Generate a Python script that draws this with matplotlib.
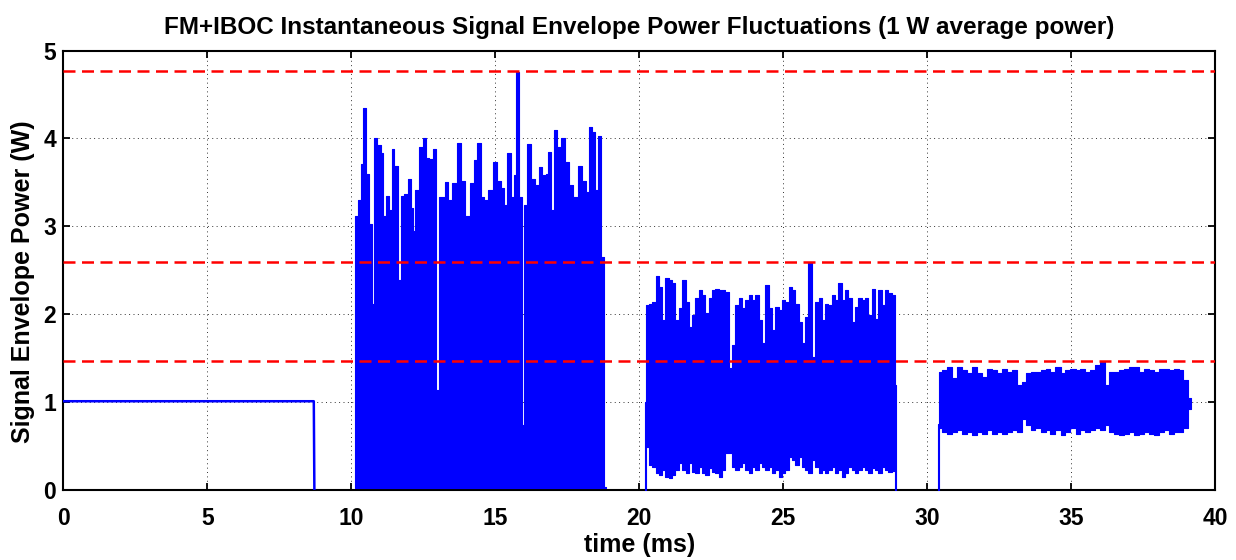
import matplotlib
matplotlib.use('Agg')
import matplotlib.pyplot as plt

# ---- data (time in ms, power in W) ----
# quiet FM carrier: constant envelope, switched off at ~8.7 ms
SEG1_T = [0.0, 8.70, 8.72]
SEG1_P = [1.01, 1.01, 0.0]

# FM+IBOC without reduction: envelope runs from ~0 up to these peaks
SEG2_T = [10.12, 10.17, 10.28, 10.38, 10.46, 10.57, 10.69, 10.75, 10.84, 10.98, 11.09,
          11.15, 11.27, 11.38, 11.44, 11.56, 11.67, 11.76, 11.90, 12.02, 12.11,
          12.19, 12.27, 12.42, 12.54, 12.65, 12.77, 12.88, 13.00, 13.08, 13.20,
          13.29, 13.40, 13.58, 13.75, 13.87, 14.04, 14.21, 14.33, 14.44, 14.56,
          14.67, 14.85, 15.00, 15.14, 15.25, 15.35, 15.48, 15.60, 15.68, 15.77,
          15.89, 15.95, 16.06, 16.18, 16.32, 16.47, 16.58, 16.70, 16.81, 16.89,
          16.99, 17.10, 17.22, 17.36, 17.51, 17.62, 17.79, 17.93, 18.08, 18.20,
          18.31, 18.43, 18.51, 18.60, 18.72, 18.84]
SEG2_PEAK = [3.10, 3.12, 3.30, 3.71, 4.35, 3.60, 3.03, 2.12, 4.01, 3.92, 3.83,
             3.12, 3.35, 3.18, 3.88, 3.69, 2.39, 3.35, 3.37, 3.54, 3.21,
             2.95, 3.41, 3.90, 4.01, 3.78, 3.77, 3.88, 1.14, 3.33, 3.33,
             3.50, 3.30, 3.49, 3.95, 3.52, 3.12, 3.49, 3.75, 3.95, 3.33,
             3.30, 3.41, 3.73, 3.52, 3.44, 3.24, 3.83, 3.33, 3.58, 4.75,
             3.33, 0.74, 3.24, 3.94, 3.54, 3.47, 3.67, 3.58, 3.60, 3.84,
             3.18, 4.09, 3.90, 4.00, 3.73, 3.47, 3.33, 3.69, 3.52, 3.39,
             4.13, 4.07, 3.41, 4.03, 2.65, 0.03]
SEG2_FLOOR = 0.02

# first stage of peak reduction
SEG3_T = [20.22, 20.28, 20.39, 20.51, 20.63, 20.74, 20.86, 20.97, 21.09, 21.20, 21.32,
          21.43, 21.55, 21.67, 21.78, 21.90, 22.01, 22.13, 22.24, 22.36, 22.47,
          22.59, 22.70, 22.82, 22.94, 23.05, 23.17, 23.28, 23.40, 23.51, 23.63,
          23.74, 23.86, 23.98, 24.09, 24.21, 24.32, 24.44, 24.55, 24.67, 24.78,
          24.90, 25.02, 25.13, 25.25, 25.36, 25.48, 25.59, 25.71, 25.82, 25.94,
          26.06, 26.17, 26.29, 26.40, 26.52, 26.63, 26.75, 26.86, 26.98, 27.10,
          27.21, 27.33, 27.44, 27.56, 27.67, 27.79, 27.90, 28.02, 28.14, 28.25,
          28.37, 28.48, 28.60, 28.71, 28.83, 28.93]
SEG3_UP = [1.00, 2.10, 2.12, 2.14, 2.44, 2.31, 1.93, 2.41, 2.39, 2.35, 1.93,
           2.07, 2.39, 2.14, 1.85, 1.99, 2.18, 2.27, 2.22, 2.01, 2.18,
           2.27, 2.29, 2.27, 2.27, 2.25, 1.39, 1.65, 2.10, 2.18, 2.07,
           2.16, 2.22, 2.16, 2.22, 1.93, 1.67, 2.33, 2.07, 1.82, 2.08,
           2.05, 2.16, 2.14, 2.31, 2.27, 2.12, 1.91, 1.67, 1.97, 2.59,
           1.51, 2.14, 2.18, 1.93, 2.12, 2.10, 2.22, 2.16, 2.36, 2.16,
           2.27, 2.18, 1.91, 2.08, 2.18, 2.16, 2.18, 1.99, 2.29, 1.95,
           2.27, 2.10, 2.27, 2.24, 2.22, 1.20]
SEG3_LO = [0.00, 0.49, 0.28, 0.26, 0.19, 0.17, 0.23, 0.15, 0.14, 0.17, 0.23,
           0.31, 0.23, 0.19, 0.31, 0.20, 0.19, 0.26, 0.19, 0.17, 0.25,
           0.20, 0.19, 0.15, 0.23, 0.42, 0.42, 0.26, 0.23, 0.26, 0.31,
           0.23, 0.19, 0.26, 0.23, 0.31, 0.26, 0.23, 0.26, 0.19, 0.23,
           0.15, 0.19, 0.23, 0.38, 0.34, 0.28, 0.38, 0.26, 0.23, 0.19,
           0.34, 0.26, 0.19, 0.23, 0.19, 0.23, 0.26, 0.19, 0.23, 0.15,
           0.19, 0.26, 0.23, 0.19, 0.23, 0.26, 0.23, 0.19, 0.25, 0.23,
           0.19, 0.26, 0.23, 0.20, 0.22, 0.00]

# second stage of peak reduction
SEG4_T = [30.37, 30.45, 30.62, 30.79, 30.97, 31.14, 31.31, 31.49, 31.66, 31.83, 32.01,
          32.18, 32.35, 32.53, 32.70, 32.87, 33.05, 33.22, 33.37, 33.51, 33.68,
          33.85, 34.03, 34.20, 34.37, 34.55, 34.72, 34.89, 35.07, 35.24, 35.41,
          35.59, 35.76, 35.93, 36.11, 36.26, 36.40, 36.57, 36.74, 36.92, 37.09,
          37.26, 37.44, 37.61, 37.78, 37.96, 38.13, 38.30, 38.48, 38.65, 38.82,
          38.99, 39.15]
SEG4_UP = [0.75, 1.34, 1.36, 1.40, 1.27, 1.40, 1.36, 1.33, 1.40, 1.33, 1.29,
           1.38, 1.36, 1.33, 1.38, 1.34, 1.36, 1.19, 1.23, 1.33, 1.34,
           1.34, 1.36, 1.38, 1.34, 1.40, 1.33, 1.36, 1.38, 1.36, 1.38,
           1.34, 1.36, 1.42, 1.46, 1.19, 1.34, 1.34, 1.36, 1.38, 1.40,
           1.40, 1.34, 1.38, 1.36, 1.34, 1.38, 1.38, 1.36, 1.38, 1.36,
           1.25, 1.05]
SEG4_LO = [0.00, 0.70, 0.66, 0.64, 0.66, 0.68, 0.64, 0.66, 0.63, 0.66, 0.64,
           0.68, 0.64, 0.66, 0.64, 0.66, 0.68, 0.66, 0.81, 0.74, 0.68,
           0.70, 0.66, 0.68, 0.64, 0.68, 0.63, 0.66, 0.70, 0.64, 0.68,
           0.66, 0.68, 0.70, 0.68, 0.74, 0.66, 0.64, 0.63, 0.64, 0.66,
           0.63, 0.64, 0.66, 0.64, 0.63, 0.66, 0.68, 0.64, 0.66, 0.66,
           0.70, 0.92]

# red reference levels (peak of each reduced stage)
REF_LEVELS = [4.77, 2.59, 1.47]

X_TICKS = [0, 5, 10, 15, 20, 25, 30, 35, 40]
Y_TICKS = [0, 1, 2, 3, 4, 5]

plt.rcParams['font.family'] = ['Liberation Sans', 'DejaVu Sans']
plt.rcParams['font.weight'] = 'bold'

W, H = 1236, 560
fig = plt.figure(figsize=(W / 100, H / 100), dpi=100)
ax_l, ax_r, ax_t, ax_b = 63.3, 1215.0, 50.5, 490.0
ax = fig.add_axes([ax_l / W, 1 - ax_b / H, (ax_r - ax_l) / W, (ax_b - ax_t) / H])

BLUE = '#0000ff'
ax.plot(SEG1_T, SEG1_P, color=BLUE, lw=1.8, zorder=3)
ax.fill_between(SEG2_T, [SEG2_FLOOR] * len(SEG2_T), SEG2_PEAK, step='mid',
                facecolor=BLUE, edgecolor=BLUE, lw=0.8, zorder=3)
ax.fill_between(SEG3_T, SEG3_LO, SEG3_UP, step='mid',
                facecolor=BLUE, edgecolor=BLUE, lw=0.8, zorder=3)
ax.fill_between(SEG4_T, SEG4_LO, SEG4_UP, step='mid',
                facecolor=BLUE, edgecolor=BLUE, lw=0.8, zorder=3)

for lvl in REF_LEVELS:
    ax.axhline(lvl, color='#ff0000', lw=1.8, dashes=(4.8, 2.6), zorder=4)

ax.set_xlim(0, 40)
ax.set_ylim(0, 5)
ax.set_xticks(X_TICKS)
ax.set_yticks(Y_TICKS)
ax.grid(True, color='black', lw=0.7, dashes=(1, 3.5), alpha=0.8)
ax.set_axisbelow(True)
for s in ax.spines.values():
    s.set_linewidth(1.5)
ax.tick_params(direction='in', length=5, width=1.3, top=True, right=True,
               labelsize=16.5)
ax.tick_params(axis='x', pad=12)
ax.tick_params(axis='y', pad=5)

ax.set_title('FM+IBOC Instantaneous Signal Envelope Power Fluctuations (1 W average power)',
             fontsize=17.5, fontweight='bold', pad=12)
ax.set_xlabel('time (ms)', fontsize=18, fontweight='bold', va='center')
ax.xaxis.set_label_coords(0.5, -(545 - ax_b) / (ax_b - ax_t))
ax.set_ylabel('Signal Envelope Power (W)', fontsize=18, fontweight='bold', va='center')
ax.yaxis.set_label_coords(-(ax_l - 23) / (ax_r - ax_l), 0.5 - (281 - 270) / (ax_b - ax_t))

fig.savefig('out.png', dpi=100)
